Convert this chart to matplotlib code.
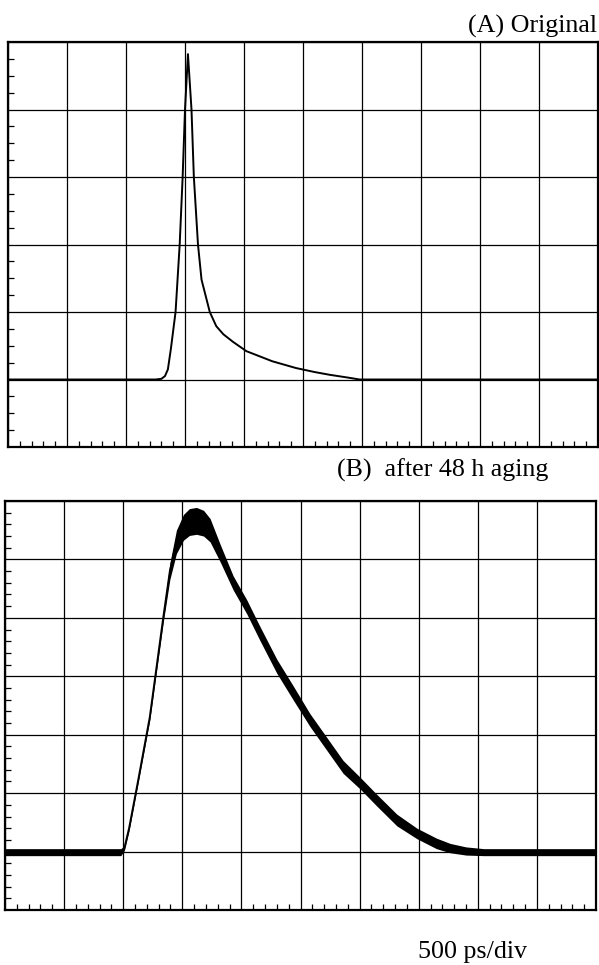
import matplotlib.pyplot as plt
from matplotlib.ticker import MultipleLocator

plt.rcParams['font.family'] = ['Liberation Serif', 'DejaVu Serif']

# trace (A): original, read in screen divisions (x 0-10, y 0-6)
a_x = [0, 1, 2, 2.5, 2.6, 2.66, 2.71, 2.76, 2.84, 2.91, 2.96, 3.0, 3.05, 3.11, 3.15,
       3.22, 3.28, 3.42, 3.53, 3.65, 3.81, 4.04, 4.48, 4.88, 5.2, 5.45, 5.75, 5.96,
       7, 8, 9, 10]
a_y = [1.0, 1.0, 1.0, 1.0, 1.01, 1.05, 1.15, 1.45, 2.0, 3.0, 4.0, 5.0, 5.82, 5.0, 4.0,
       3.0, 2.48, 2.0, 1.79, 1.67, 1.56, 1.42, 1.27, 1.17, 1.11, 1.07, 1.03, 1.0,
       1.0, 1.0, 1.0, 1.0]

# trace (B): after 48 h aging, centre of noisy band and its half width (x 0-10, y 0-7)
b_x = [0, 1, 1.96, 2.02, 2.1, 2.25, 2.45, 2.68, 2.79, 2.9, 3.02, 3.12, 3.24, 3.36,
       3.47, 3.64, 3.86, 4.09, 4.31, 4.6, 4.88, 5.16, 5.44, 5.72, 6.01, 6.29, 6.63,
       6.97, 7.3, 7.53, 7.8, 8.1, 9, 10]
b_y = [0.99, 0.99, 0.99, 1.06, 1.4, 2.2, 3.3, 5.02, 5.8, 6.3, 6.55, 6.64, 6.66, 6.62,
       6.5, 6.11, 5.6, 5.19, 4.74, 4.17, 3.71, 3.25, 2.85, 2.45, 2.17, 1.88, 1.54,
       1.31, 1.14, 1.06, 1.01, 0.99, 0.99, 0.99]
b_hw = [0.06, 0.06, 0.06, 0.04, 0.04, 0.04, 0.05, 0.08, 0.14, 0.2, 0.22, 0.23, 0.23, 0.22,
        0.2, 0.15, 0.12, 0.12, 0.12, 0.12, 0.12, 0.11, 0.11, 0.11, 0.1, 0.1, 0.1,
        0.09, 0.09, 0.08, 0.07, 0.06, 0.06, 0.06]

W, H = 599, 965
fig = plt.figure(figsize=(W / 100, H / 100), dpi=100)


def scope_axes(left, top, right, bottom, ndiv_y, minor_y):
    ax = fig.add_axes([left / W, 1 - bottom / H, (right - left) / W, (bottom - top) / H])
    ax.set_xlim(0, 10)
    ax.set_ylim(0, ndiv_y)
    ax.xaxis.set_major_locator(MultipleLocator(1))
    ax.yaxis.set_major_locator(MultipleLocator(1))
    ax.xaxis.set_minor_locator(MultipleLocator(0.2))
    ax.yaxis.set_minor_locator(MultipleLocator(1 / minor_y))
    ax.grid(True, which='major', color='black', linewidth=0.9)
    ax.tick_params(which='both', direction='in', top=False, right=False,
                   labelbottom=False, labelleft=False, color='black')
    ax.tick_params(which='major', length=0)
    ax.tick_params(which='minor', length=4, width=0.9)
    for s in ax.spines.values():
        s.set_linewidth(1.6)
        s.set_color('black')
    ax.set_axisbelow(True)
    return ax


ax1 = scope_axes(8, 42, 598, 447, 6, 4)
ax1.plot(a_x, a_y, color='black', linewidth=1.4)

ax2 = scope_axes(5, 501, 596, 910, 7, 5)
lo = [y - h for y, h in zip(b_y, b_hw)]
hi = [y + h for y, h in zip(b_y, b_hw)]
ax2.fill_between(b_x, lo, hi, color='black', linewidth=0)
ax2.plot(b_x, b_y, color='black', linewidth=1.4)

fig.text(597 / W, 1 - 33 / H, '(A) Original', ha='right', va='baseline', fontsize=18.7)
fig.text(548 / W, 1 - 477 / H, '(B)  after 48 h aging', ha='right', va='baseline', fontsize=18.7)
fig.text(418 / W, 1 - 958 / H, '500 ps/div', ha='left', va='baseline', fontsize=18.7)

fig.savefig('out.png', dpi=100)
